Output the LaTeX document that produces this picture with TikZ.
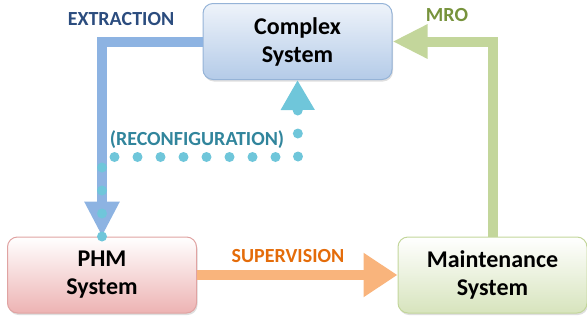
\documentclass[tikz,border=0pt]{standalone}
\usepackage{fontspec}
\setmainfont{Carlito}
\usetikzlibrary{arrows.meta,shadows}
\definecolor{extrblue}{HTML}{8DB3E2}
\definecolor{extrtext}{HTML}{2B4C7E}
\definecolor{dotcyan}{HTML}{6FC6DA}
\definecolor{reconftext}{HTML}{31859C}
\definecolor{suporange}{HTML}{F9B47C}
\definecolor{suptext}{HTML}{E46C0A}
\definecolor{mrogreen}{HTML}{C3D69B}
\definecolor{mrotext}{HTML}{77933C}
\definecolor{cplxtop}{HTML}{EEF3FA}
\definecolor{cplxbot}{HTML}{B4CBE8}
\definecolor{cplxline}{HTML}{95B3D7}
\definecolor{phmbot}{HTML}{EDB3B3}
\definecolor{phmline}{HTML}{E0A3A2}
\definecolor{maintbot}{HTML}{D7E4BD}

\begin{document}
\begin{tikzpicture} [
  x=1pt, y=-1pt,
  sysbox/.style={rectangle,rounded corners=10pt,line width=1pt,
    minimum width=189pt,minimum height=76pt,align=center,
    font=\fontsize{24}{28}\selectfont\bfseries,
    drop shadow={opacity=0.25,shadow xshift=1pt,shadow yshift=-2pt}},
  lbl/.style={font=\fontsize{20}{22}\selectfont\bfseries,inner sep=0pt},
  flow/.style={line width=10pt},
  ]
  \useasboundingbox (0,0) rectangle (587,322);
  \node (cplx) [sysbox,draw=cplxline,top color=cplxtop,bottom color=cplxbot]
    at (297.5,41.5) {Complex\\System};
  \node (phm) [sysbox,draw=phmline,top color=white,bottom color=phmbot]
    at (102,275) {PHM\\System};
  \node (maint) [sysbox,draw=mrogreen,top color=white,bottom color=maintbot]
    at (492.5,275) {Maintenance\\System};
  \coordinate (rcturn) at (298,157);

  \draw [flow,extrblue,-{Triangle[width=33pt,length=35pt]}] (cplx.west) -| (phm.north);
  \draw [flow,mrogreen,-{Triangle[width=32pt,length=35pt]}] (maint.north) |- (cplx.east);
  \draw [flow,suporange,-{Triangle[width=42pt,length=34pt]}] (phm.east) -- (maint.west);
  \draw [line width=10pt,dotcyan,line cap=round,dash pattern=on 0pt off 23pt,
    -{Triangle[width=32pt,length=30pt]}] (phm.north) |- (rcturn) -- (cplx.south);

  \node (lextr) [lbl,text=extrtext] at (121,19) {EXTRACTION};
  \node (lmro) [lbl,text=mrotext] at (447,15) {MRO};
  \node (lreconf) [lbl,text=reconftext] at (197,140) {(RECONFIGURATION)};
  \node (lsup) [lbl,text=suptext] at (288,256) {SUPERVISION};
\end{tikzpicture}
\end{document}
